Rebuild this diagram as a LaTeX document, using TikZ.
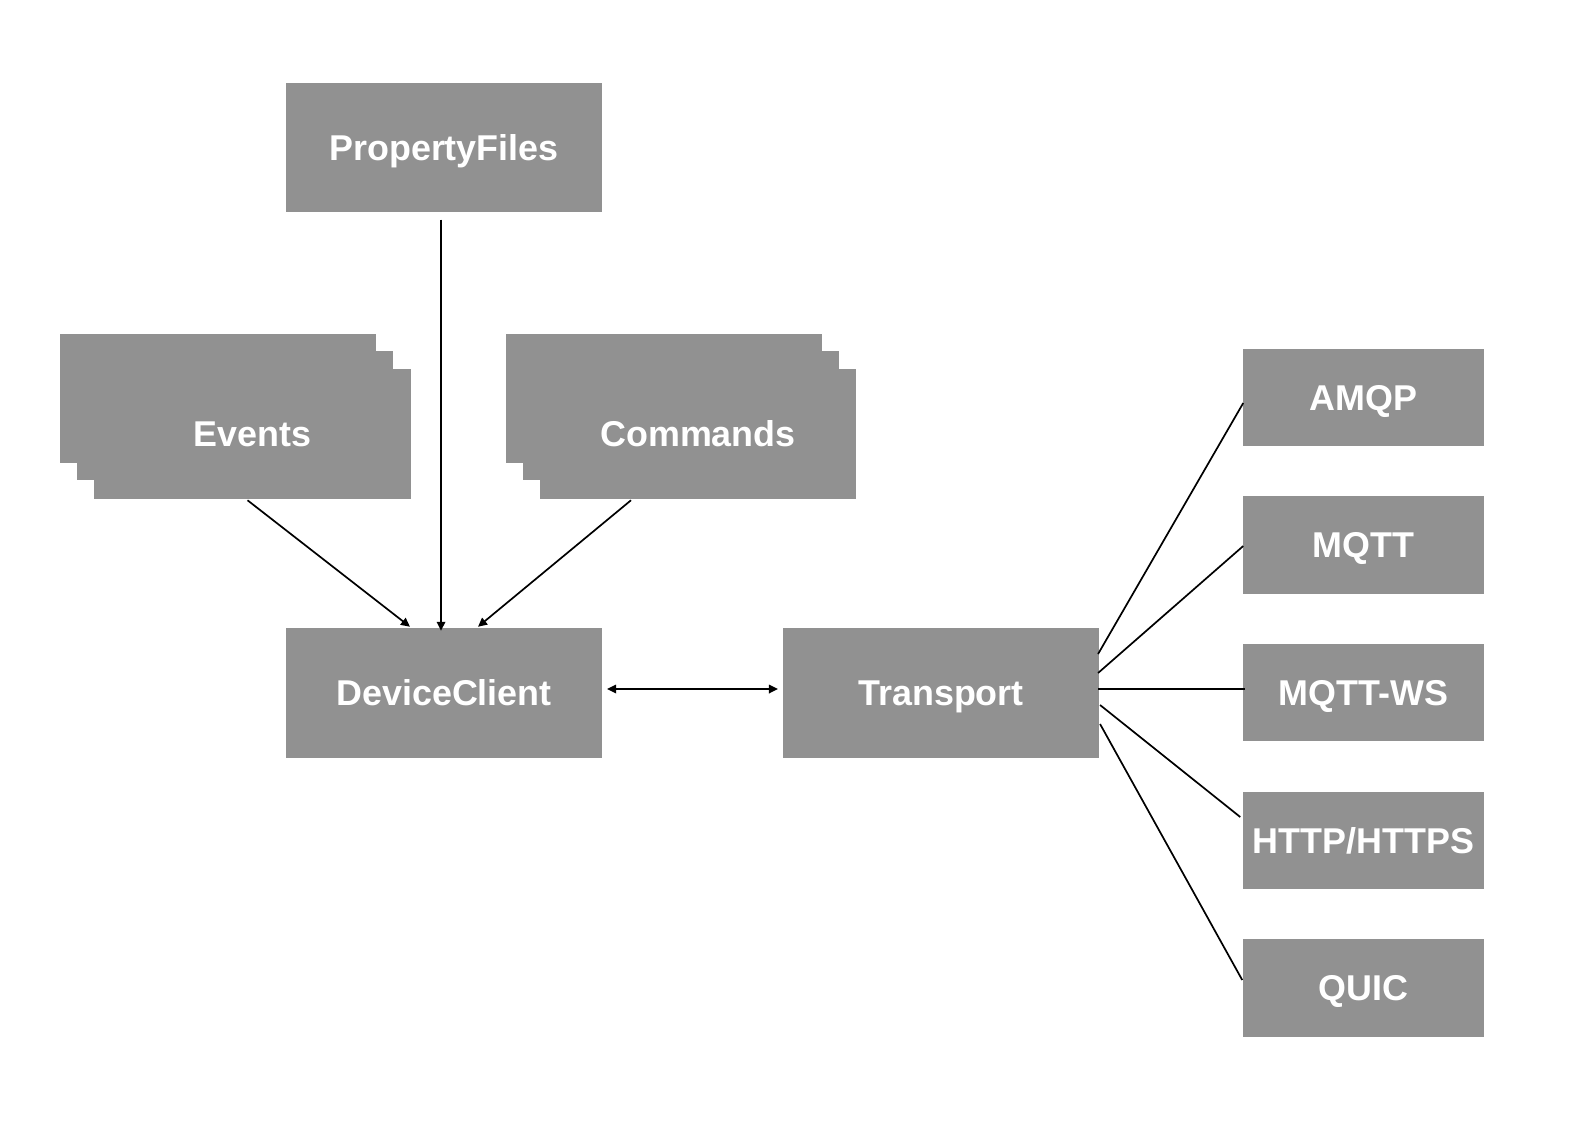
\documentclass[tikz,border=0pt]{standalone}
\usepackage{fontspec}
\setmainfont{Liberation Sans}
\usetikzlibrary{arrows.meta,calc}
\definecolor{boxgray}{RGB}{145,145,145}
\tikzset{
  box/.style={fill=boxgray, draw=none, inner sep=0pt, text=white,
    font=\fontsize{10.2pt}{12pt}\selectfont\bfseries,
    text height=0.716em, text depth=0pt},
  bigbox/.style={box, minimum width=3.165cm, minimum height=1.29cm},
  protobox/.style={box, minimum width=2.41cm, minimum height=0.975cm},
  conn/.style={line width=0.017cm, draw=black},
  arr/.style={conn, -{Triangle[length=0.09cm,width=0.085cm]}},
  biarr/.style={conn, {Triangle[length=0.09cm,width=0.085cm]}-{Triangle[length=0.09cm,width=0.085cm]}}
}
\begin{document}
\begin{tikzpicture}[x=0.01cm,y=-0.01cm]
\useasboundingbox (0,0) rectangle (1580,1142);
% PropertyFiles
\node[bigbox] (pf) at (444,147.5) {PropertyFiles};
% Events stack
\node[bigbox] (ev3) at (218,398.5) {};
\node[bigbox] (ev2) at (235,415.5) {};
\node[bigbox, yshift=-0.02cm] (ev) at (252.5,432) {Events};
% Commands stack
\node[bigbox] (cm3) at (664,398.5) {};
\node[bigbox] (cm2) at (681,415.5) {};
\node[bigbox, yshift=-0.02cm] (cm) at (698,432) {Commands};
% DeviceClient and Transport
\node[bigbox] (dc) at (444,693) {DeviceClient};
\node[bigbox] (tr) at (941,693) {Transport};
% Protocols
\node[protobox] (amqp) at (1363.5,397.5) {AMQP};
\node[protobox] (mqtt) at (1363.5,545) {MQTT};
\node[protobox] (mqttws) at (1363.5,692.5) {MQTT-WS};
\node[protobox] (http) at (1363.5,840.5) {HTTP/HTTPS};
\node[protobox] (quic) at (1363.5,988) {QUIC};
% connectors
\draw[arr] ($(pf.south)+(-3,7)$) -- ($(dc.north)+(-3,3)$);
\draw[arr] ($(ev.south)+(-5,1)$) -- ($(dc.north)+(-34,-1)$);
\draw[arr] ($(cm.south)+(-67,1)$) -- ($(dc.north)+(34,-1)$);
\draw[biarr] ($(dc.east)+(4,-4)$) -- ($(tr.west)+(-4,-4)$);
\draw[conn] ($(tr.east)+(-2,-39)$) -- ($(amqp.west)+(1,5.5)$);
\draw[conn] ($(tr.east)+(-2,-20)$) -- ($(mqtt.west)+(1,1)$);
\draw[conn] ($(tr.east)+(-2,-4)$) -- ($(mqttws.west)+(3,-3.5)$);
\draw[conn] ($(tr.east)+(0,12)$) -- ($(http.west)+(-2,-23.5)$);
\draw[conn] ($(tr.east)+(0,31)$) -- ($(quic.west)+(0,-8)$);
\end{tikzpicture}
\end{document}
